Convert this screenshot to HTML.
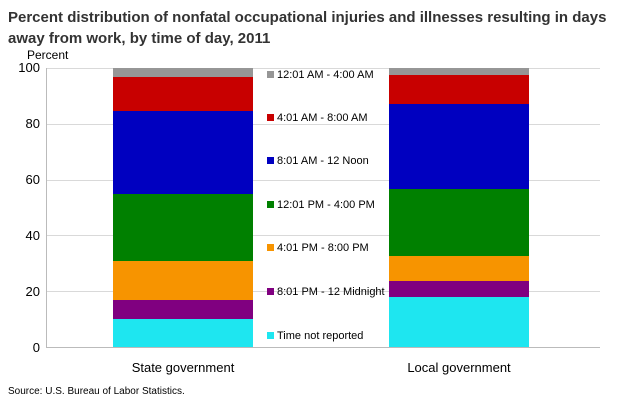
<!DOCTYPE html><html><head><style>body{margin:0;background:#fff;font-family:"Liberation Sans",sans-serif}</style></head><body>
<svg width="620" height="405" xmlns="http://www.w3.org/2000/svg" font-family="Liberation Sans, sans-serif">
<text x="8" y="22" font-size="15" font-weight="bold" fill="#333">Percent distribution of nonfatal occupational injuries and illnesses resulting in days</text>
<text x="8" y="43" font-size="15" font-weight="bold" fill="#333">away from work, by time of day, 2011</text>
<text x="27" y="59" font-size="12" fill="#000">Percent</text>
<g stroke="#d9d9d9" stroke-width="1">
<line x1="46" x2="600" y1="68.5" y2="68.5"/><line x1="46" x2="600" y1="124.5" y2="124.5"/><line x1="46" x2="600" y1="180.5" y2="180.5"/><line x1="46" x2="600" y1="235.5" y2="235.5"/><line x1="46" x2="600" y1="291.5" y2="291.5"/>
</g>
<line x1="46.5" x2="46.5" y1="68" y2="347" stroke="#bbb"/>
<line x1="46" x2="600" y1="347.5" y2="347.5" stroke="#bbb"/>
<g font-size="13" text-anchor="end" fill="#000">
<text x="40" y="72">100</text><text x="40" y="128">80</text><text x="40" y="184">60</text><text x="40" y="240">40</text><text x="40" y="296">20</text><text x="40" y="352">0</text></g>
<!-- State -->
<rect x="113" y="68" width="140" height="9" fill="#969696"/>
<rect x="113" y="77" width="140" height="34" fill="#c80000"/>
<rect x="113" y="111" width="140" height="83" fill="#0000c0"/>
<rect x="113" y="194" width="140" height="67" fill="#008000"/>
<rect x="113" y="261" width="140" height="39" fill="#f79400"/>
<rect x="113" y="300" width="140" height="19" fill="#800080"/>
<rect x="113" y="319" width="140" height="28" fill="#1ee6f0"/>
<!-- Local -->
<rect x="389" y="68" width="140" height="7" fill="#969696"/>
<rect x="389" y="75" width="140" height="29" fill="#c80000"/>
<rect x="389" y="104" width="140" height="85" fill="#0000c0"/>
<rect x="389" y="189" width="140" height="67" fill="#008000"/>
<rect x="389" y="256" width="140" height="25" fill="#f79400"/>
<rect x="389" y="281" width="140" height="16" fill="#800080"/>
<rect x="389" y="297" width="140" height="50" fill="#1ee6f0"/>
<g font-size="11" fill="#000">
<rect x="267" y="71" width="7" height="7" fill="#969696"/><text x="277" y="78">12:01 AM - 4:00 AM</text>
<rect x="267" y="114" width="7" height="7" fill="#c80000"/><text x="277" y="121">4:01 AM - 8:00 AM</text>
<rect x="267" y="157" width="7" height="7" fill="#0000c0"/><text x="277" y="164">8:01 AM - 12 Noon</text>
<rect x="267" y="201" width="7" height="7" fill="#008000"/><text x="277" y="208">12:01 PM - 4:00 PM</text>
<rect x="267" y="244" width="7" height="7" fill="#f79400"/><text x="277" y="251">4:01 PM - 8:00 PM</text>
<rect x="267" y="288" width="7" height="7" fill="#800080"/><text x="277" y="295">8:01 PM - 12 Midnight</text>
<rect x="267" y="332" width="7" height="7" fill="#1ee6f0"/><text x="277" y="339">Time not reported</text>
</g>
<text x="183" y="372" font-size="13" text-anchor="middle">State government</text>
<text x="459" y="372" font-size="13" text-anchor="middle">Local government</text>
<text x="8" y="394" font-size="10" fill="#000">Source: U.S. Bureau of Labor Statistics.</text>
</svg></body></html>
